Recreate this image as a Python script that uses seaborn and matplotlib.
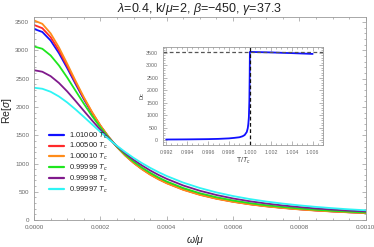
import numpy as np
import pandas as pd
import matplotlib
matplotlib.use("Agg")
import matplotlib.pyplot as plt
import seaborn as sns
from matplotlib.ticker import MultipleLocator, FormatStrFormatter

# frequency grid (omega/mu) and Re[sigma]
omega = [0.0, 0.000025, 0.00005, 0.000075, 0.0001, 0.000125, 0.00015, 0.000175,
         0.0002, 0.000225, 0.00025, 0.000275, 0.0003, 0.000325, 0.00035, 0.000375,
         0.0004, 0.00045, 0.0005, 0.00055, 0.0006, 0.00065, 0.0007, 0.00075,
         0.0008, 0.00085, 0.0009, 0.00095, 0.001]
sigma_101000 = [3380, 3326, 3175, 2952, 2687, 2409, 2139, 1889, 1664, 1466, 1294,
                1146, 1018, 908, 813, 731, 659, 543, 454, 384, 329, 284, 248, 218,
                193, 172, 154, 139, 126]
sigma_100500 = [3450, 3393, 3234, 3000, 2723, 2435, 2156, 1899, 1669, 1468, 1293,
                1143, 1014, 904, 808, 726, 655, 539, 450, 380, 325, 281, 245, 216,
                191, 170, 153, 138, 125]
sigma_100010 = [3530, 3470, 3301, 3054, 2764, 2463, 2174, 1910, 1674, 1469, 1292,
                1140, 1010, 899, 803, 721, 650, 534, 445, 376, 322, 278, 242, 213,
                188, 168, 151, 136, 123]
sigma_099999 = [3070, 3029, 2911, 2734, 2520, 2289, 2059, 1840, 1639, 1458, 1298,
                1158, 1036, 929, 836, 754, 683, 566, 475, 404, 347, 300, 262, 231,
                205, 183, 164, 148, 134]
sigma_099998 = [2650, 2623, 2545, 2425, 2275, 2107, 1933, 1761, 1597, 1445, 1306,
                1180, 1067, 967, 878, 799, 729, 611, 518, 443, 382, 333, 292, 258,
                230, 205, 185, 167, 152]
sigma_099997 = [2340, 2322, 2269, 2186, 2080, 1957, 1826, 1692, 1559, 1432, 1313,
                1202, 1100, 1008, 924, 848, 779, 662, 567, 489, 425, 372, 328, 291,
                260, 233, 210, 190, 173]
labels = ["1.01000 $T_c$", "1.00500 $T_c$", "1.00010 $T_c$",
          "0.99999 $T_c$", "0.99998 $T_c$", "0.99997 $T_c$"]
colors = ["#1010ff", "#ff2a2a", "#ff8c1a", "#1ee61e", "#801a8c", "#2ef5f5"]

# inset: DC conductivity vs T/Tc
t_ratio = [0.992, 0.993, 0.994, 0.995, 0.996, 0.997, 0.998, 0.9985, 0.999, 0.9993,
           0.9995, 0.9997, 0.9998, 0.99985, 0.9999, 0.99995, 0.99998, 0.99999,
           1.0, 1.001, 1.002, 1.003, 1.004, 1.005, 1.006]
dc = [20, 22, 25, 30, 35, 45, 65, 85, 110, 150, 200, 320, 480, 650, 900, 1600,
      2600, 3100, 3530, 3520, 3510, 3495, 3482, 3466, 3450]
dc_max = 3530

sns.set_style("ticks")
plt.rcParams["font.family"] = ["Liberation Sans", "DejaVu Sans"]
plt.rcParams["mathtext.fontset"] = "custom"
plt.rcParams["mathtext.rm"] = "Liberation Sans"
plt.rcParams["mathtext.it"] = "Liberation Sans:italic"

frames = []
for lab, vals in zip(labels, [sigma_101000, sigma_100500, sigma_100010,
                              sigma_099999, sigma_099998, sigma_099997]):
    frames.append(pd.DataFrame({"omega": omega, "sigma": vals, "T": lab}))
df = pd.concat(frames, ignore_index=True)


def style_axes(ax, size):
    for s in ax.spines.values():
        s.set_color("#9a9a9a")
        s.set_linewidth(0.6)
    ax.tick_params(which="both", direction="in", top=True, right=True,
                   colors="#9a9a9a", labelcolor="#666666", labelsize=size, width=0.5)
    ax.tick_params(which="major", length=3)
    ax.tick_params(which="minor", length=1.5)


fig = plt.figure(figsize=(3.74, 2.47), dpi=100)
ax = fig.add_axes([0.091, 0.109, 0.887, 0.822])
sns.lineplot(data=df, x="omega", y="sigma", hue="T", palette=colors,
             linewidth=1.3, ax=ax, sort=False)
ax.set_xlim(0, 0.001)
ax.set_ylim(0, 3590)
ax.xaxis.set_major_locator(MultipleLocator(0.0002))
ax.xaxis.set_minor_locator(MultipleLocator(0.00005))
ax.xaxis.set_major_formatter(FormatStrFormatter("%.4f"))
ax.yaxis.set_major_locator(MultipleLocator(500))
ax.yaxis.set_minor_locator(MultipleLocator(100))
style_axes(ax, 4.5)
ax.set_xlabel(r"$\omega/\mu$", fontsize=7.5, color="#222222")
ax.xaxis.set_label_coords(0.485, -0.065, transform=ax.transAxes)
ax.xaxis.label.set_va("top")
ax.set_ylabel(r"Re[$\sigma$]", fontsize=7.5, color="#222222")
ax.yaxis.set_label_coords(-0.06, 0.54, transform=ax.transAxes)
ax.set_title(r"$\lambda$=0.4, k/$\mu$=2, $\beta$=−450, $\gamma$=37.3",
             fontsize=9, color="#222222", pad=3)
leg = ax.legend(loc="lower left", frameon=False, fontsize=5.5, handlelength=2.0,
                handletextpad=0.6, labelspacing=0.08, borderaxespad=0.0,
                bbox_to_anchor=(0.035, 0.11))
for line in leg.get_lines():
    line.set_linewidth(1.6)

ins = fig.add_axes([0.436, 0.413, 0.428, 0.397])
sns.lineplot(x=t_ratio, y=dc, color="#1010ff", linewidth=1.3, ax=ins)
ins.axhline(dc_max, color="#555555", linestyle=(0, (3, 2)), linewidth=0.9)
ins.axvline(1.0, color="#111111", linestyle=(0, (3, 2)), linewidth=0.9)
ins.set_xlim(0.9917, 1.007)
ins.set_ylim(-200, 3730)
ins.xaxis.set_major_locator(MultipleLocator(0.002))
ins.xaxis.set_minor_locator(MultipleLocator(0.0005))
ins.xaxis.set_major_formatter(FormatStrFormatter("%.3f"))
ins.yaxis.set_major_locator(MultipleLocator(500))
ins.yaxis.set_minor_locator(MultipleLocator(100))
style_axes(ins, 3.8)
ins.set_xlabel("T/$T_c$", fontsize=5, color="#444444", labelpad=1)
ins.set_ylabel("Dc", fontsize=4, color="#444444", labelpad=1)

fig.savefig("out.png", dpi=100)
